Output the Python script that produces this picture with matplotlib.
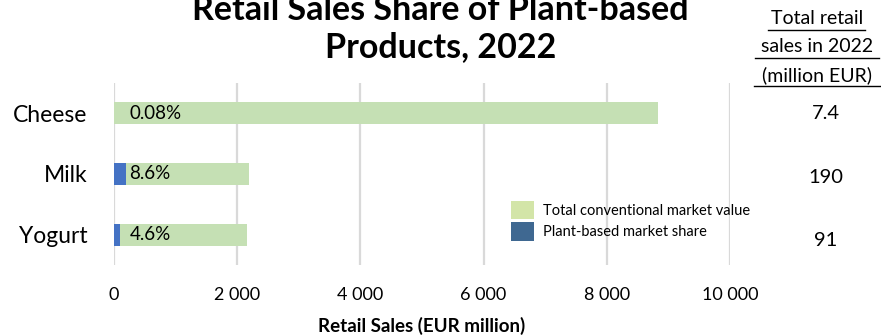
import matplotlib.pyplot as plt
from matplotlib.lines import Line2D
from matplotlib.patches import Patch
from matplotlib.ticker import FuncFormatter

plt.rcParams['font.family'] = ['Lato', 'DejaVu Sans']

categories = ['Cheese', 'Milk', 'Yogurt']
conventional = [8830, 2190, 2160]      # EUR million
plant_based = [7.4, 190, 91]           # EUR million
share_labels = ['0.08%', '8.6%', '4.6%']
total_labels = ['7.4', '190', '91']

GREEN = '#c5e0b4'
BLUE = '#4472c4'

fig = plt.figure(figsize=(8.81, 3.36), dpi=100)
ax = fig.add_axes([114 / 881, 1 - 265 / 336, 616 / 881, 182 / 336])

ypos = list(range(len(categories)))
ax.barh(ypos, conventional, height=0.36, color=GREEN, zorder=2)
ax.barh(ypos, plant_based, height=0.36, color=BLUE, zorder=3)

for y, lab in zip(ypos, share_labels):
    ax.text(250, y, lab, ha='left', va='center', fontsize=13.5, zorder=4)

ax.set_xlim(0, 10000)
ax.set_ylim(len(categories) - 0.5, -0.5)
ax.set_yticks(ypos)
ax.set_yticklabels(categories, fontsize=16.5)
ax.set_xticks(range(0, 10001, 2000))
ax.xaxis.set_major_formatter(FuncFormatter(lambda v, p: f'{int(v):,}'.replace(',', ' ')))
ax.tick_params(axis='x', labelsize=13, length=0, pad=16)
ax.tick_params(axis='y', length=0, pad=19)
ax.grid(axis='x', color='#d9d9d9', linewidth=1.6, zorder=0)
for s in ax.spines.values():
    s.set_visible(False)
ax.set_xlabel('Retail Sales (EUR million)', fontsize=13.5, fontweight='bold', labelpad=10)

fig.text(0.5, 1 + 6 / 336, 'Retail Sales Share of Plant-based\nProducts, 2022',
         ha='center', va='top', fontsize=24.5, fontweight='bold', linespacing=1.2)

# side column with totals, underlined heading
head_x = 817 / 881
heading = ['Total retail', 'sales in 2022', '(million EUR)']
for i, line in enumerate(heading):
    yc = 1 - (19 + 28 * i) / 336
    fig.text(head_x, yc, line, ha='center', va='center', fontsize=14)
spans = [(768, 865), (755, 879), (754, 880)]
for i, (x0, x1) in enumerate(spans):
    yl = 1 - (30 + 28 * i) / 336
    fig.add_artist(Line2D([x0 / 881, x1 / 881], [yl, yl], color='black', linewidth=1, transform=fig.transFigure))

for y, lab, off in zip(ypos, total_labels, [0, 4, 6]):
    yf = ax.transData.transform((0, y))[1]
    fig.text(826 / 881, (yf - off) / 336, lab, ha='center', va='center', fontsize=14.5)

handles = [Patch(facecolor='#d3e5a8', label='Total conventional market value'),
           Patch(facecolor='#3f6891', label='Plant-based market share')]
fig.legend(handles=handles, loc='upper left', bbox_to_anchor=(498 / 881, 1 - 188 / 336),
           frameon=False, fontsize=10.5, handlelength=1.6, handleheight=1.55,
           handletextpad=0.6, labelspacing=0.2)

fig.savefig('out.png', dpi=100)
